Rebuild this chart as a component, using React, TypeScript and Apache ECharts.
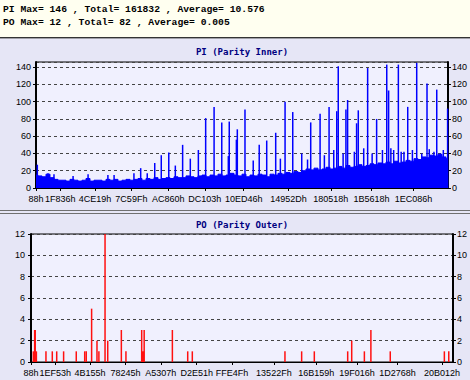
import { useEffect, useRef } from "react";
import * as echarts from "echarts";

// ---------- data ----------
const LBA_MAX = 2200000;
const PI_AXIS_MAX = 146;
const PO_AXIS_MAX = 12;

const HEADER_LINES = [
  "PI Max= 146 , Total= 161832 , Average= 10.576",
  "PO Max= 12 , Total= 82 , Average= 0.005",
];
const PI_TITLE = "PI (Parity Inner)";
const PO_TITLE = "PO (Parity Outer)";

const PI_TICK_LABELS = ["88h", "1F836h", "4CE19h", "7C59Fh", "AC860h", "DC103h", "10ED46h", "14952Dh", "180518h", "1B5618h", "1EC086h"];
const PO_TICK_LABELS = ["88h", "1EF53h", "4B155h", "78245h", "A5307h", "D2E51h", "FFE4Fh", "13522Fh", "16B159h", "19F016h", "1D2768h", "20B012h"];

// PI background level, evenly spaced samples from LBA 0 to LBA_MAX
const PI_BASE = [
  15, 14, 13, 16, 12, 10, 9, 9, 8, 10, 9, 8, 9, 11, 8, 9, 9, 8, 10, 9,
  10, 8, 9, 10, 9, 10, 11, 9, 11, 10, 12, 10, 11, 12, 11, 13, 12, 12, 14, 13,
  12, 14, 15, 13, 15, 14, 16, 14, 15, 17, 15, 14, 16, 13, 15, 14, 16, 15, 13, 16,
  15, 17, 16, 18, 17, 19, 18, 20, 22, 21, 23, 21, 22, 24, 22, 23, 25, 23, 26, 24,
  25, 27, 25, 26, 28, 27, 29, 28, 30, 28, 31, 29, 30, 32, 31, 34, 33, 36, 35, 38,
  37, 39, 36, 34,
];

// PI spikes: LBA (thousands) and PI value
const PI_SPIKE_LBA_K = [
  7, 64, 96, 198, 278, 384, 417, 523, 559, 594, 634, 669, 709, 744, 783, 824, 867, 906, 951, 992,
  1027, 1032, 1070, 1075, 1116, 1160, 1192, 1232, 1280, 1330, 1371, 1419, 1467, 1517, 1565, 1606, 1614, 1655, 1664, 1712,
  1721, 1771, 1819, 1873, 1883, 1910, 1935, 1950, 1985, 2033, 2088, 2100, 2125, 2140, 2160, 2175, 2198,
  1305, 1450, 1540, 1590, 1640, 1700, 1750, 1795, 1850, 1895, 1965, 2010, 2060,
];
const PI_SPIKE_VALUES = [
  27, 17, 16, 14, 16, 15, 15, 17, 23, 17, 29, 38, 41, 26, 50, 34, 44, 81, 94, 76,
  37, 77, 56, 68, 91, 32, 50, 55, 64, 100, 88, 40, 76, 86, 94, 89, 141, 91, 102, 75,
  90, 139, 80, 143, 113, 44, 143, 42, 94, 145, 121, 45, 42, 114, 40, 44, 92,
  34, 33, 38, 44, 40, 42, 46, 40, 44, 46, 42, 44, 40,
];

// PO errors: LBA (thousands) and PO value
const PO_LBA_K = [
  12, 19, 22, 28, 78, 111, 134, 170, 236, 280, 288, 316, 344, 354, 386, 400, 471, 495, 577, 582,
  587, 590, 737, 817, 841, 1324, 1411, 1477, 1651, 1672, 1738, 1772, 1873, 2155, 2178,
];
const PO_VALUES = [
  1, 3, 3, 1, 1, 1, 1, 1, 1, 1, 1, 5, 2, 1, 12, 2, 3, 1, 3, 1,
  1, 3, 3, 1, 1, 1, 1, 1, 1, 2, 1, 3, 1, 1, 1,
];

// ---------- helpers ----------
const hexToNum = (s: string) => parseInt(s.replace(/h$/, ""), 16);
const numToHex = (v: number) => Math.round(v).toString(16).toUpperCase() + "h";

const LABEL_FONT = { fontFamily: "Liberation Sans", fontSize: 9, color: "#000" };
const GRID_LINE = { color: "#444444", type: [3, 3] as number[], width: 1 };

function yAxisPair(gridIndex: number, max: number, interval: number, leftMargin: number, rightMargin: number) {
  const common = {
    type: "value",
    gridIndex,
    min: 0,
    max,
    interval,
    axisLine: { show: true, onZero: false, lineStyle: { color: "#000", width: 2 } },
    axisTick: { show: true, length: 3, lineStyle: { color: "#000", width: 1 } },
  };
  return [
    {
      ...common,
      position: "left",
      axisLabel: { ...LABEL_FONT, margin: leftMargin, showMaxLabel: max % interval === 0 },
      splitLine: { show: true, lineStyle: GRID_LINE },
    },
    {
      ...common,
      position: "right",
      axisLabel: { ...LABEL_FONT, margin: rightMargin, showMaxLabel: max % interval === 0 },
      splitLine: { show: false },
    },
  ];
}

function xAxisFor(gridIndex: number, labels: string[], margin: number) {
  const ticks = labels.map(hexToNum);
  return {
    type: "value",
    gridIndex,
    min: 0,
    max: LBA_MAX,
    axisLine: { show: true, onZero: false, lineStyle: { color: "#000", width: 1 } },
    axisTick: { show: true, length: 3, customValues: ticks, lineStyle: { color: "#000" } },
    axisLabel: { ...LABEL_FONT, margin, customValues: ticks, formatter: (v: number) => numToHex(v), hideOverlap: false },
    splitLine: { show: false },
  };
}

export default function App() {
  const ref = useRef<HTMLDivElement>(null);

  useEffect(() => {
    if (!ref.current) return;
    const chart = echarts.init(ref.current, undefined, { renderer: "svg" });

    const piBase = PI_BASE.map((v, i) => [(i * LBA_MAX) / (PI_BASE.length - 1), v]);
    const piSpikes = PI_SPIKE_LBA_K.map((k, i) => [k * 1000, PI_SPIKE_VALUES[i]]);
    const po = PO_LBA_K.map((k, i) => [k * 1000, PO_VALUES[i]]);

    const option: any = {
      animation: false,
      backgroundColor: "#E6E6F6",
      graphic: [
        { type: "rect", shape: { x: 0, y: 0, width: 470, height: 37 }, style: { fill: "#FFFFF0" }, silent: true },
        { type: "rect", shape: { x: 0, y: 37, width: 470, height: 1 }, style: { fill: "#333333" }, silent: true },
        { type: "rect", shape: { x: 0, y: 38, width: 470, height: 1 }, style: { fill: "#A0A0A8" }, silent: true },
        { type: "rect", shape: { x: 0, y: 210, width: 470, height: 1 }, style: { fill: "#707070" }, silent: true },
        { type: "rect", shape: { x: 0, y: 213, width: 470, height: 1 }, style: { fill: "#707070" }, silent: true },
        ...HEADER_LINES.map((t, i) => ({
          type: "text",
          x: 3,
          y: 9 + i * 13,
          style: {
            text: t,
            fontFamily: "Liberation Mono",
            fontWeight: "bold",
            fontSize: 9.7,
            fill: "#000",
            align: "left",
            verticalAlign: "middle",
          },
        })),
        {
          type: "text",
          x: 242,
          y: 52,
          style: { text: PI_TITLE, fontFamily: "DejaVu Sans Mono", fontWeight: "bold", fontSize: 9, fill: "#000080", align: "center", verticalAlign: "middle" },
        },
        {
          type: "text",
          x: 242,
          y: 225,
          style: { text: PO_TITLE, fontFamily: "DejaVu Sans Mono", fontWeight: "bold", fontSize: 9, fill: "#000080", align: "center", verticalAlign: "middle" },
        },
      ],
      grid: [
        { left: 36, right: 22, top: 62, bottom: 192, show: true, backgroundColor: "#F0F0FE", borderColor: "#000", borderWidth: 1 },
        { left: 31, right: 17, top: 234, bottom: 18, show: true, backgroundColor: "#F0F0FE", borderColor: "#000", borderWidth: 1 },
      ],
      xAxis: [xAxisFor(0, PI_TICK_LABELS, 6), xAxisFor(1, PO_TICK_LABELS, 6)],
      yAxis: [...yAxisPair(0, PI_AXIS_MAX, 20, 5, 4), ...yAxisPair(1, PO_AXIS_MAX, 2, 6, 4)],
      series: [
        {
          type: "line",
          name: "PI level",
          xAxisIndex: 0,
          yAxisIndex: 0,
          data: piBase,
          step: "middle",
          symbol: "none",
          lineStyle: { color: "#0000FF", width: 1 },
          areaStyle: { color: "#0000FF", opacity: 1 },
          silent: true,
        },
        {
          type: "bar",
          name: "PI",
          xAxisIndex: 0,
          yAxisIndex: 0,
          data: piSpikes,
          barWidth: 1.5,
          itemStyle: { color: "#0000FF" },
          silent: true,
        },
        {
          type: "bar",
          name: "PO",
          xAxisIndex: 1,
          yAxisIndex: 2,
          data: po,
          barWidth: 1.5,
          itemStyle: { color: "#FF1010" },
          silent: true,
        },
      ],
    };

    chart.setOption(option);
    return () => chart.dispose();
  }, []);

  return <div ref={ref} style={{ position: "absolute", left: 0, top: 0, width: 470, height: 380 }} />;
}
